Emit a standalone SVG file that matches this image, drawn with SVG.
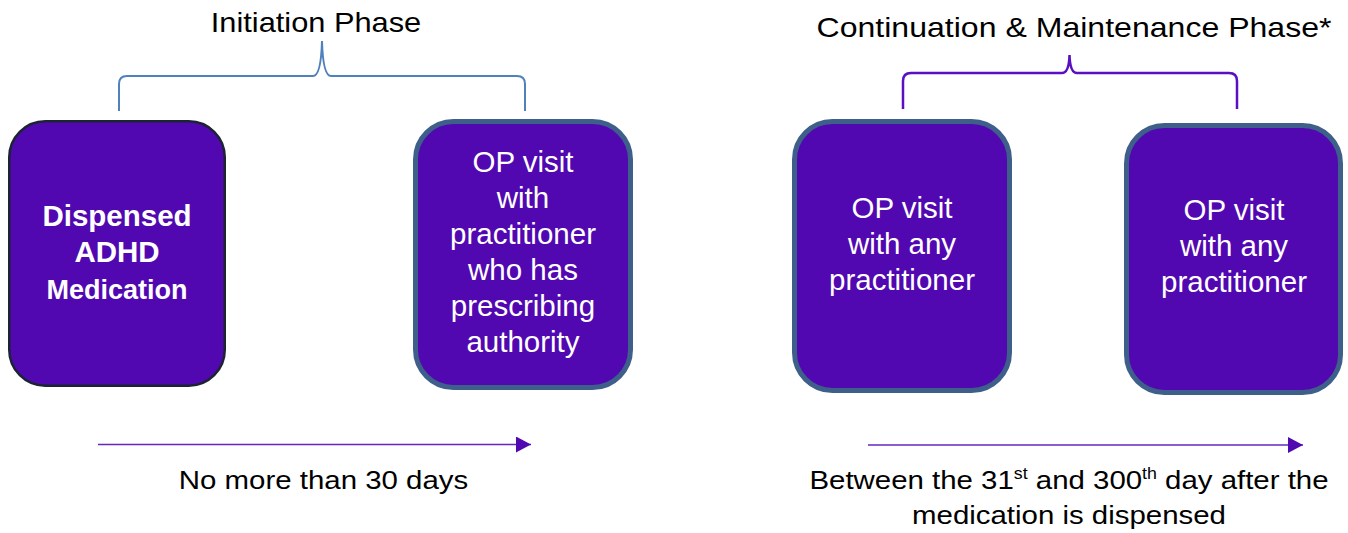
<svg xmlns="http://www.w3.org/2000/svg" width="1348" height="533" viewBox="0 0 1348 533">
<defs>
<style>
.box{fill:#5108b1}
.b1{stroke:#1c2333;stroke-width:2.5}
.b2{stroke:#3d5f8a;stroke-width:5}
.wt{font-family:"Liberation Sans",Arial,sans-serif;fill:#ffffff;text-anchor:middle;font-size:29.5px}
.bold{font-weight:bold}
.bt{font-family:"Liberation Sans",Arial,sans-serif;fill:#000000;text-anchor:middle}
.sup{font-size:16px}
.arrow{stroke:#6327c4;stroke-width:1.6;fill:none}
</style>
<marker id="ah" markerWidth="16" markerHeight="16" viewBox="0 0 16 16" refX="15" refY="8" orient="auto" markerUnits="userSpaceOnUse">
<path d="M0,0 L15,8 L0,16 Z" fill="#5108b1"/>
</marker>
</defs>
<rect width="1348" height="533" fill="#ffffff"/>

<g id="title-initiation">
<text class="bt" font-size="28.5" transform="translate(316 0) scale(1.08 1)" x="0" y="32">Initiation Phase</text>
</g>
<g id="title-continuation">
<text class="bt" font-size="28.5" transform="translate(1074 0) scale(1.125 1)" x="0" y="37">Continuation &amp; Maintenance Phase*</text>
</g>

<g id="connectors">
<path d="M119,111 V84 Q119,76 127,76 H313 Q321,76 322,41 Q323,76 331,76 H517 Q525,76 525,84 V111" fill="none" stroke="#4f81bd" stroke-width="2"/>
<path d="M903,109 V81 Q903,73 911,73 H1062 Q1069,73 1069.5,55 Q1070,73 1077,73 H1229 Q1237,73 1237,81 V109" fill="none" stroke="#5a0fc0" stroke-width="2.5"/>
<line class="arrow" x1="98" y1="444.5" x2="531" y2="444.5" marker-end="url(#ah)"/>
<line class="arrow" x1="868" y1="445" x2="1303" y2="445" marker-end="url(#ah)"/>
</g>

<g id="node-dispensed">
<rect class="box b1" x="9.25" y="121.25" width="215.5" height="264.5" rx="36"/>
<text class="wt bold" x="117" y="226" style="font-size:29.5px">Dispensed</text>
<text class="wt bold" x="117" y="262" style="font-size:29.5px">ADHD</text>
<text class="wt bold" x="117" y="299" style="font-size:27px">Medication</text>
</g>

<g id="node-op-prescriber">
<rect class="box b2" x="415.5" y="121.5" width="215" height="266" rx="38"/>
<text class="wt" x="523" y="172">OP visit</text>
<text class="wt" x="523" y="208">with</text>
<text class="wt" x="523" y="244">practitioner</text>
<text class="wt" x="523" y="280">who has</text>
<text class="wt" x="523" y="316">prescribing</text>
<text class="wt" x="523" y="352">authority</text>
</g>

<g id="node-op-any-1">
<rect class="box b2" x="794.5" y="121.5" width="215" height="269" rx="38"/>
<text class="wt" x="902" y="218">OP visit</text>
<text class="wt" x="902" y="254">with any</text>
<text class="wt" x="902" y="290">practitioner</text>
</g>

<g id="node-op-any-2">
<rect class="box b2" x="1126.5" y="125.5" width="214" height="267" rx="38"/>
<text class="wt" x="1234" y="220">OP visit</text>
<text class="wt" x="1234" y="256">with any</text>
<text class="wt" x="1234" y="292">practitioner</text>
</g>

<g id="label-30days">
<text class="bt" font-size="26.5" transform="translate(323.5 0) scale(1.11 1)" x="0" y="489">No more than 30 days</text>
</g>
<g id="label-31-300">
<text class="bt" font-size="26.5" transform="translate(1069 0) scale(1.11 1)" x="0" y="489">Between the 31<tspan class="sup" dy="-10">st</tspan><tspan dy="10"> and 300</tspan><tspan class="sup" dy="-10">th</tspan><tspan dy="10"> day after the</tspan></text>
<text class="bt" font-size="26.5" transform="translate(1069 0) scale(1.11 1)" x="0" y="524">medication is dispensed</text>
</g>
</svg>
